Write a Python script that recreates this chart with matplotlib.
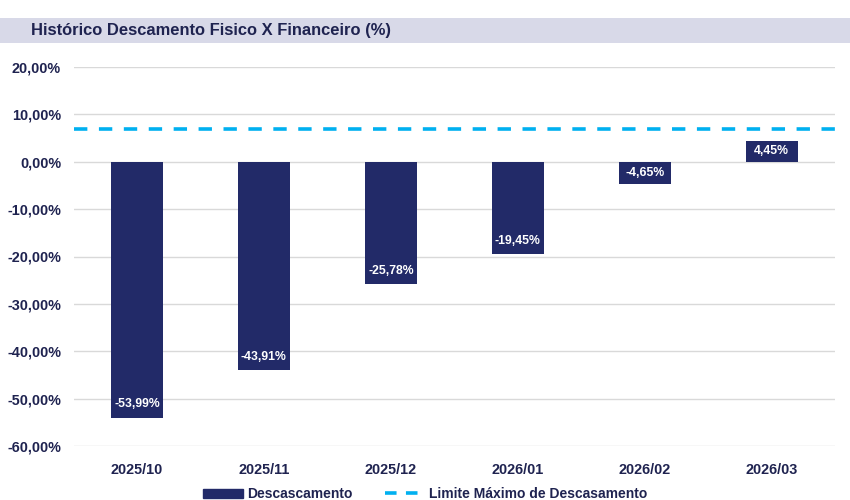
import matplotlib.pyplot as plt
import matplotlib.patches as mpatches
from matplotlib.lines import Line2D
import numpy as np

meses = ["2025/10", "2025/11", "2025/12", "2026/01", "2026/02", "2026/03"]
descasamento = [-53.99, -43.91, -25.78, -19.45, -4.65, 4.45]
limite = 7.0
yticks = [20, 10, 0, -10, -20, -30, -40, -50, -60]

navy = "#222a68"
azul = "#00b0f0"
txt = "#1f2350"

plt.rcParams["font.family"] = ["Liberation Sans", "DejaVu Sans"]

fig = plt.figure(figsize=(8.5, 5), dpi=100, facecolor="w")

# title band
band = mpatches.Rectangle((0, 0.914), 1, 0.05, transform=fig.transFigure,
                          facecolor="#d8d9e8", edgecolor="none", zorder=0)
fig.patches.append(band)
fig.text(0.037, 0.939, "Histórico Descamento Fisico X Financeiro (%)",
         fontsize=11.9, fontweight="bold", color=txt, va="center", ha="left")

ax = fig.add_axes([0.0865, 0.108, 0.896, 0.758])
x = np.arange(len(meses))
ax.bar(x, descasamento, width=0.41, color=navy, zorder=2)
ax.axhline(limite, color=azul, lw=2.6, ls=(0, (3.7, 3.2)), zorder=3)

for xi, v in zip(x, descasamento):
    lbl = f"{v:.2f}%".replace(".", ",")
    if v < -10:
        y = v + 2.8
    else:
        y = v / 2
    ax.text(xi, y, lbl, ha="center", va="center", color="white", fontsize=8.8,
            fontweight="bold", zorder=4)

ax.set_xlim(-0.5, 5.5)
ax.set_ylim(-60, 20)
ax.set_yticks(yticks)
ax.set_yticklabels([f"{t:.2f}%".replace(".", ",") for t in yticks])
ax.set_xticks(x)
ax.set_xticklabels(meses)
ax.grid(axis="y", color="#d9d9d9", lw=1, zorder=0)
for s in ax.spines.values():
    s.set_visible(False)
ax.tick_params(length=0, labelsize=10.4, labelcolor=txt)
ax.tick_params(axis="y", pad=9)
ax.tick_params(axis="x", pad=12)
for lab in ax.get_xticklabels() + ax.get_yticklabels():
    lab.set_fontweight("bold")

handles = [mpatches.Patch(color=navy, label="Descascamento"),
           Line2D([0], [0], color=azul, lw=2.6, ls=(0, (3.2, 2.6)),
                  label="Limite Máximo de Descasamento")]
leg = fig.legend(handles=handles, loc="center", bbox_to_anchor=(0.5, 0.012),
                 ncol=2, frameon=False, fontsize=10, handlelength=2.9,
                 handleheight=0.6, columnspacing=2.3, handletextpad=0.3)
for t in leg.get_texts():
    t.set_fontweight("bold")
    t.set_color(txt)

fig.savefig("out.png", dpi=100)
